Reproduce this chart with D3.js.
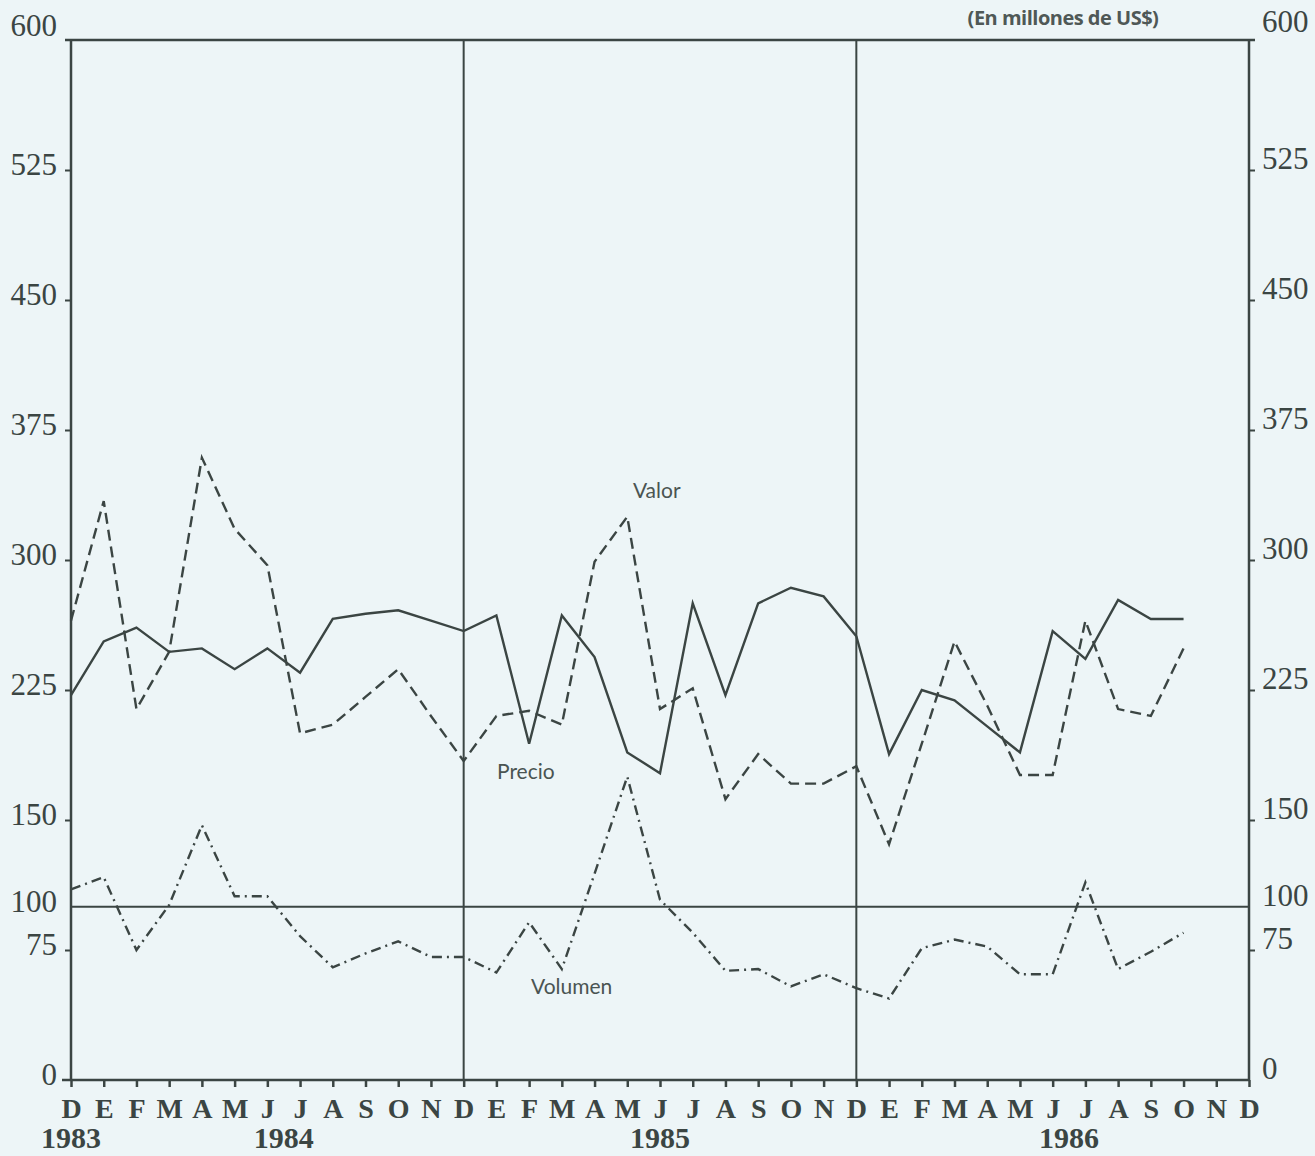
<!DOCTYPE html>
<html>
<head>
<meta charset="utf-8">
<script src="https://cdn.jsdelivr.net/npm/d3@7"></script>
<style>
    body { margin: 0; background: #edf5f7; }
    svg { display: block; }
</style>
</head>
<body>
<div id="chart"></div>
<script>
// months from Dec 1983 to Dec 1986
let monthLabels = ["D", "E", "F", "M", "A", "M", "J", "J", "A", "S", "O", "N",
    "D", "E", "F", "M", "A", "M", "J", "J", "A", "S", "O", "N",
    "D", "E", "F", "M", "A", "M", "J", "J", "A", "S", "O", "N", "D"];
let yearLabels = ["1983", "1984", "1985", "1986"];
let yearAtMonth = [0, 6.5, 18, 30.5];
let yTicks = [0, 75, 100, 150, 225, 300, 375, 450, 525, 600];

// series, D 1983 .. O 1986
let precio = [222, 253, 261, 247, 249, 237, 249, 235, 266, 269, 271, 265,
    259, 268, 194, 268, 244, 189, 177, 275, 222, 275, 284, 279,
    256, 188, 225, 219, 204, 189, 259, 243, 277, 266, 266];
let valor = [265, 334, 214, 247, 359, 318, 297, 200, 205, 221, 237, 210,
    184, 210, 213, 205, 299, 325, 214, 226, 162, 188, 171, 171,
    181, 136, 194, 253, 216, 176, 176, 265, 214, 210, 249];
let volumen = [110, 117, 75, 101, 147, 106, 106, 83, 65, 73, 80, 71,
    71, 62, 91, 64, 119, 175, 104, 85, 63, 64, 54, 61,
    53, 47, 76, 81, 77, 61, 61, 114, 64, 74, 85];

let seriesNames = ["Valor", "Precio", "Volumen"];
let seriesLabelAt = [[17.9, 340], [13.9, 178], [15.3, 54]];

class lineChart {
    constructor(container) {
        this.container = container;
    }
    init() {
        let margin = { top: 40, right: 66, bottom: 76, left: 71 },
            width = 1315 - margin.left - margin.right,
            height = 1156 - margin.top - margin.bottom;

        this.svg = d3.select(this.container).append("svg")
            .attr("width", 1315)
            .attr("height", 1156);
        this.margin = margin;
        this.width = width;
        this.height = height;

        this.x = d3.scaleLinear()
            .domain([0, monthLabels.length - 1])
            .range([margin.left, margin.left + width]);
        this.y = d3.scaleLinear()
            .domain([0, 600])
            .range([margin.top + height, margin.top]);
    }
    renderFrame() {
        let svg = this.svg, x = this.x, y = this.y;
        let ink = "#3b4543";
        let serif = "'Liberation Serif', 'DejaVu Serif', serif";
        let x0 = x(0), x1 = x(monthLabels.length - 1);

        svg.append("rect").attr("width", 1315).attr("height", 1156).attr("fill", "#edf5f7");

        let frame = svg.append("g").attr("stroke", ink).attr("stroke-width", 2.5).attr("fill", "none");
        frame.append("line").attr("x1", x0 - 6).attr("x2", x1 + 6).attr("y1", y(600)).attr("y2", y(600));
        frame.append("line").attr("x1", x0 - 9).attr("x2", x1).attr("y1", y(0)).attr("y2", y(0));
        frame.append("line").attr("x1", x0).attr("x2", x0).attr("y1", y(600)).attr("y2", y(0));
        frame.append("line").attr("x1", x1).attr("x2", x1).attr("y1", y(600)).attr("y2", y(0));
        // year dividers
        [12, 24].forEach(function (m) {
            frame.append("line").attr("x1", x(m)).attr("x2", x(m))
                .attr("y1", y(600)).attr("y2", y(0)).attr("stroke-width", 2);
        });
        // base line at 100
        frame.append("line").attr("x1", x0).attr("x2", x1)
            .attr("y1", y(100)).attr("y2", y(100)).attr("stroke-width", 2);

        // left axis
        let left = svg.append("g")
            .attr("transform", "translate(" + x0 + ",0)")
            .call(d3.axisLeft(y).tickValues(yTicks).tickSize(6).tickPadding(8).tickSizeOuter(0));
        left.select(".domain").remove();
        left.selectAll("line").attr("stroke", ink).attr("stroke-width", 2)
            .filter(function (d) { return d == 100 || d == 0 || d == 600; }).remove();
        left.selectAll("text")
            .attr("dy", "0.32em")
            .attr("y", function (d) { return d == 600 ? -14 : -5; })
            .style("font-family", serif)
            .style("font-size", "31px")
            .attr("fill", ink);

        // right axis
        let right = svg.append("g")
            .attr("transform", "translate(" + x1 + ",0)")
            .call(d3.axisRight(y).tickValues(yTicks).tickSize(6).tickPadding(7).tickSizeOuter(0));
        right.select(".domain").remove();
        right.selectAll("line").attr("stroke", ink).attr("stroke-width", 2)
            .filter(function (d) { return d == 100 || d == 0 || d == 600; }).remove();
        right.selectAll("text")
            .attr("dy", "0.32em")
            .attr("y", function (d) { return d == 600 ? -18 : -11; })
            .style("font-family", serif)
            .style("font-size", "31px")
            .attr("fill", ink);

        // bottom axis with month initials
        let bottom = svg.append("g")
            .attr("transform", "translate(0," + y(0) + ")")
            .call(d3.axisBottom(x).tickValues(d3.range(monthLabels.length))
                .tickFormat(function (d) { return monthLabels[d]; })
                .tickSize(7).tickPadding(11).tickSizeOuter(0));
        bottom.select(".domain").remove();
        bottom.selectAll("line").attr("stroke", ink).attr("stroke-width", 2.5);
        bottom.selectAll("text")
            .style("font-family", serif)
            .style("font-size", "28px")
            .style("font-weight", "bold")
            .attr("fill", ink);

        svg.selectAll(".yearlabel")
            .data(yearLabels)
            .enter()
            .append("text")
            .attr("class", "yearlabel")
            .attr("x", function (d, i) { return x(yearAtMonth[i]); })
            .attr("y", y(0) + 68)
            .attr("text-anchor", "middle")
            .text(function (d) { return d; })
            .style("font-family", serif)
            .style("font-size", "30px")
            .style("font-weight", "bold")
            .attr("fill", ink);

        svg.append("text")
            .attr("x", 1063)
            .attr("y", 25)
            .attr("text-anchor", "middle")
            .text("(En millones de US$)")
            .style("font-family", "'Open Sans', 'DejaVu Sans', sans-serif")
            .style("font-size", "20px")
            .style("font-weight", "bold")
            .style("letter-spacing", "-0.5px")
            .attr("fill", "#4f5856");
    }
    renderLines() {
        let svg = this.svg, x = this.x, y = this.y;
        let ink = "#3b4543";
        let line = d3.line()
            .x(function (d, i) { return x(i); })
            .y(function (d) { return y(d); });

        let styles = [
            { data: valor, dash: "11,6" },
            { data: precio, dash: null },
            { data: volumen, dash: "10,5,2,5" }
        ];
        styles.forEach(function (s) {
            svg.append("path")
                .datum(s.data)
                .attr("d", line)
                .attr("fill", "none")
                .attr("stroke", ink)
                .attr("stroke-width", 2.4)
                .attr("stroke-linejoin", "miter")
                .attr("stroke-dasharray", s.dash);
        });

        svg.selectAll(".serieslabel")
            .data(seriesNames)
            .enter()
            .append("text")
            .attr("class", "serieslabel")
            .attr("x", function (d, i) { return x(seriesLabelAt[i][0]); })
            .attr("y", function (d, i) { return y(seriesLabelAt[i][1]); })
            .attr("dy", "0.35em")
            .attr("text-anchor", "middle")
            .text(function (d) { return d; })
            .style("font-family", "Lato, 'Open Sans', sans-serif")
            .style("font-size", "21px")
            .attr("fill", "#4a5452");
    }
}

let chart = new lineChart("#chart");
chart.init();
chart.renderFrame();
chart.renderLines();
</script>
</body>
</html>
